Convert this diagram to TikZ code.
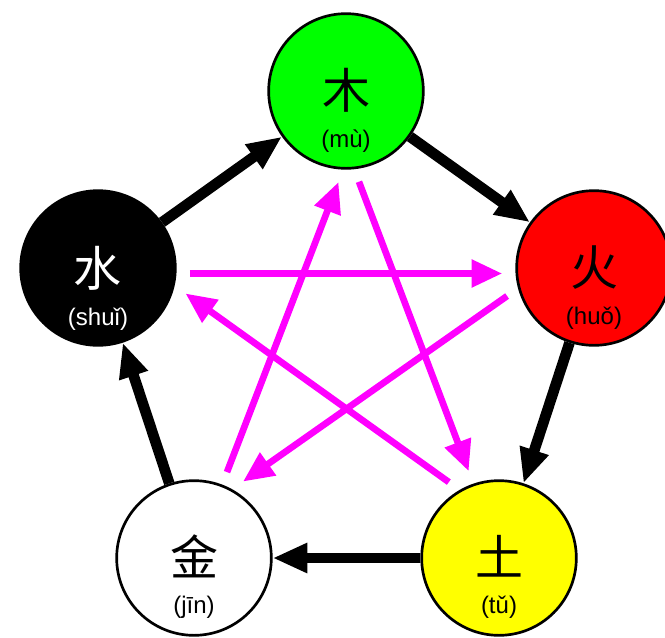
\documentclass[tikz,border=0pt]{standalone}
\usepackage{fontspec}
\usetikzlibrary{arrows.meta}
\newfontfamily\cjk{Noto Sans CJK SC}
\newfontfamily\pyfont{Liberation Sans}
\definecolor{mugreen}{RGB}{0,255,0}
\definecolor{huored}{RGB}{255,0,0}
\definecolor{tuyellow}{RGB}{255,255,0}
\definecolor{kemagenta}{RGB}{255,0,255}

\begin{document}
\begin{tikzpicture}[x=0.75pt,y=0.75pt,yscale=-1,xscale=1,
  elem/.style={circle, draw, line width=2pt, minimum size=116pt, inner sep=0pt},
  zi/.style={font=\cjk\fontsize{36}{36}\selectfont, inner sep=0pt},
  py/.style={font=\pyfont\fontsize{18}{18}\selectfont, inner sep=0pt},
  sheng/.style={line width=8pt, -{Triangle[length=26pt,width=21pt]}},
  ke/.style={draw=kemagenta, line width=5pt, -{Triangle[length=23pt,width=20pt]}, shorten <=10pt, shorten >=10pt}]
\useasboundingbox (0,0) rectangle (665,637);

%Elements
\node [elem, fill=mugreen] (mu) at (346,91) {};
\node [elem, fill=huored] (huo) at (594,268) {};
\node [elem, fill=tuyellow] (tu) at (499,558) {};
\node [elem, fill=white] (jin) at (194,558) {};
\node [elem, fill=black] (shui) at (98,268) {};

% Text Node
\node [zi] (mu-zi) at (346,90) {木};
\node [py] (mu-py) at (346,141) {(mù)};
% Text Node
\node [zi] (huo-zi) at (594,268) {火};
\node [py] (huo-py) at (594,318) {(huǒ)};
% Text Node
\node [zi] (tu-zi) at (499,556) {土};
\node [py] (tu-py) at (499,607) {(tǔ)};
% Text Node
\node [zi] (jin-zi) at (194,556) {金};
\node [py] (jin-py) at (194,607) {(jīn)};
% Text Node
\node [zi, text=white] (shui-zi) at (98,268) {水};
\node [py, text=white] (shui-py) at (98,319) {(shuǐ)};

%Generating cycle
\draw [sheng] (mu) -- (huo);
\draw [sheng] (huo) -- (tu);
\draw [sheng] (tu) -- (jin);
\draw [sheng] (jin) -- (shui);
\draw [sheng] (shui) -- (mu);

%Overcoming cycle
\draw [ke] (shui.-4) -- (huo.184);
\draw [ke] (huo.195) -- (jin.61);
\draw [ke] (jin.69) -- (mu.-92);
\draw [ke] (mu.-84) -- (tu.109);
\draw [ke] (tu.120) -- (shui.-13);

\end{tikzpicture}
\end{document}
